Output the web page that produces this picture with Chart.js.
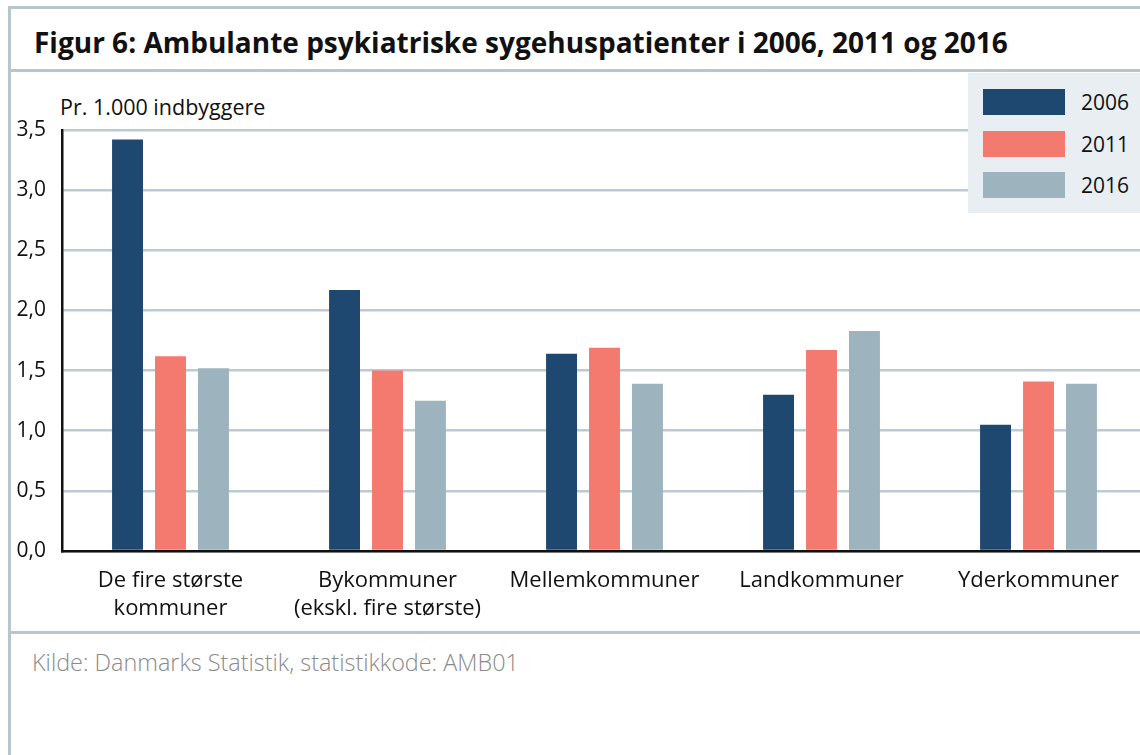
<!DOCTYPE html>
<html lang="da">
<head>
<meta charset="utf-8">
<script src="https://cdn.jsdelivr.net/npm/chart.js@4.4.1/dist/chart.umd.min.js"></script>
<style>
    html, body { margin: 0; padding: 0; background: #fff; overflow: hidden; }
    body { width: 1140px; height: 755px; position: relative; font-family: "Open Sans", sans-serif; }
    .line { position: absolute; background: #b7c5cc; }
    #title { position: absolute; left: 34px; top: 23px; font-size: 28px; font-weight: 700; color: #111; white-space: nowrap; }
    #ylabel { position: absolute; left: 60px; top: 92px; font-size: 21.5px; color: #111; }
    #source { position: absolute; left: 32px; top: 646px; font-size: 23.4px; font-weight: 300; color: #8a8a8a; }
    #chartBox { position: absolute; left: 0; top: 75px; width: 1150px; height: 557px; }
    #legend { position: absolute; left: 968px; top: 73px; width: 180px; height: 140px; background: #e8eef1; }
    .item { position: absolute; left: 15px; height: 26px; }
    .sw { position: absolute; left: 0; top: 0; width: 82px; height: 26px; }
    .lt { position: absolute; left: 98px; top: -1px; font-size: 21px; color: #111; }
</style>
</head>
<body>
<div class="line" style="left:8px;top:6px;width:1140px;height:3px"></div>
<div class="line" style="left:8px;top:6px;width:3px;height:760px"></div>
<div class="line" style="left:8px;top:69px;width:1140px;height:3px"></div>
<div class="line" style="left:8px;top:631px;width:1140px;height:3px"></div>

<div id="title">Figur 6: Ambulante psykiatriske sygehuspatienter i 2006, 2011 og 2016</div>
<div id="ylabel">Pr. 1.000 indbyggere</div>

<div id="chartBox"><canvas id="chart"></canvas></div>

<div id="legend"></div>

<div id="source">Kilde: Danmarks Statistik, statistikkode: AMB01</div>

<script>
// Kategorier (to linjer hvor nødvendigt)
const categories = [
    ['De fire største', 'kommuner'],
    ['Bykommuner', '(ekskl. fire største)'],
    'Mellemkommuner',
    'Landkommuner',
    'Yderkommuner'
];

const years = ['2006', '2011', '2016'];

// Værdier pr. 1.000 indbyggere
const values2006 = [3.42, 2.17, 1.64, 1.30, 1.05];
const values2011 = [1.62, 1.50, 1.69, 1.67, 1.41];
const values2016 = [1.52, 1.25, 1.39, 1.83, 1.39];

const yTicks = [0, 0.5, 1, 1.5, 2, 2.5, 3, 3.5];

const colors = ['#1f4871', '#f47a6f', '#9db3bd'];

const seriesValues = [values2006, values2011, values2016];

// Forklaring (legend) bygget i HTML
const legendEl = document.getElementById('legend');
years.forEach((y, i) => {
    const item = document.createElement('div');
    item.className = 'item';
    item.style.top = (16 + i * 41.5) + 'px';
    item.innerHTML = '<div class="sw" style="background:' + colors[i] + '"></div><div class="lt">' + y + '</div>';
    legendEl.appendChild(item);
});

const ctx = document.getElementById('chart').getContext('2d');

new Chart(ctx, {
    type: 'bar',
    data: {
        labels: categories,
        datasets: years.map((y, i) => ({
            label: y,
            data: seriesValues[i],
            backgroundColor: colors[i],
            borderWidth: 0,
            categoryPercentage: 0.594,
            barPercentage: 0.72
        }))
    },
    options: {
        responsive: true,
        maintainAspectRatio: false,
        animation: false,
        layout: { padding: { top: 55, right: 3, left: 0, bottom: 0 } },
        plugins: {
            legend: { display: false },
            tooltip: { enabled: false }
        },
        scales: {
            x: {
                grid: { display: false, drawTicks: false },
                border: { color: '#111', width: 2.5 },
                ticks: {
                    color: '#111',
                    font: { family: 'Open Sans', size: 22, lineHeight: 1.25 },
                    padding: 16,
                    maxRotation: 0,
                    autoSkip: false
                },
                afterFit: (scale) => { scale.height = 81; }
            },
            y: {
                min: 0,
                max: 3.5,
                afterBuildTicks: (scale) => { scale.ticks = yTicks.map(v => ({ value: v })); },
                grid: { color: '#bccbd2', lineWidth: 2.5, drawTicks: false },
                border: { color: '#111', width: 2.5 },
                ticks: {
                    color: '#111',
                    font: { family: 'Open Sans', size: 21 },
                    padding: 16,
                    callback: (v) => v.toFixed(1).replace('.', ',')
                },
                afterFit: (scale) => { scale.width = 62; }
            }
        }
    }
});
</script>
</body>
</html>
